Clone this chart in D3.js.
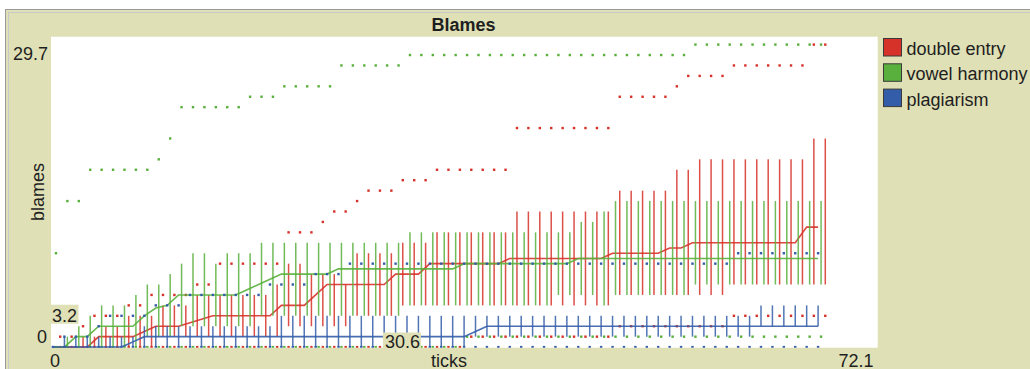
<!DOCTYPE html>
<html>
<head>
<meta charset="utf-8">
<script src="https://cdn.jsdelivr.net/npm/d3@7"></script>
<style>
  html, body { margin: 0; padding: 0; background: #ffffff; }
  svg { display: block; font-family: "Liberation Sans", Arial, sans-serif; }
</style>
</head>
<body>
<svg id="chart" width="1030" height="369"></svg>
<script>
// ---- data: per tick, each series has max, min, median and quartile span ----
const ticks = d3.range(0, 68);
const seriesNames = ["double entry", "vowel harmony", "plagiarism"];
const xLabels = ["0", "72.1"];
const yLabels = ["0", "29.7"];
const xRange = [0, 72.1];
const yRange = [0, 29.7];

const redMax = [1,1,2,3,3,3,4,4,5,5,5,5,6,6,8,8,8,8,8,8,11,11,11,12,13,13,14,15,15,15,16,16,16,17,17,17,17,17,17,17,21,21,21,21,21,21,21,21,21,24,24,24,24,24,25,26,26,26,26,27,27,27,27,27,27,27,29,29];
const redMin = [0,0,0,0,0,0,0,0,0,0,0,0,0,0,0,0,0,0,0,0,0,0,0,0,0,0,0,0,0,0,0,0,0,0,0,0,1,1,1,1,1,1,1,1,1,1,1,1,1,2,2,2,2,2,2,2,2,2,2,3,3,3,3,3,3,3,3,3];
const redMed = [0,0,0,0,1,1,1,1,1.5,2,2,2,2.33,2.67,3,3,3,3,3,3,4,4,4,5,6,6,6,6,6,6,7,7,7,8,8,8,8,8,8,8,8.5,8.5,8.5,8.5,8.5,8.5,8.5,8.5,8.5,9,9,9,9,9,9.5,9.5,10,10,10,10,10,10,10,10,10,10,11.5,11.5];
const redQ1  = [0,0,0,0,0,0,0,0,0,1,1,1,1,1,1,1,1,1,1,1,2,2,2,2,2,2,3,3,3,3,4,4,4,4,4,4,4,4,4,4,4,4,4,4,4,4,4,4,4,5,5,5,5,5,5,5,5,5,5,6,6,6,6,6,6,6,6,6];
const redQ3  = [0,0,1,1,2,2,3,3,3,4,4,4,5,5,5,5,5,5,5,6,8,8,7,7,7,6,9,9,9,9,10,10,10,11,11,11,11,11,11,11,13,13,13,13,13,13,13,13,13,15,15,15,15,15,17,17,18,18,18,18,18,18,18,18,18,18,20,20];

const greenMax = [9,14,14,17,17,17,17,17,17,18,20,23,23,23,23,23,23,24,24,24,25,25,25,25,25,27,27,27,27,27,27,28,28,28,28,28,28,28,28,28,28,28,28,28,28,28,28,28,28,28,28,28,28,28,28,28,29,29,29,29,29,29,29,29,29,29,29,29];
const greenMin = [0,0,0,0,0,0,0,0,0,0,0,0,0,0,0,0,0,0,0,0,0,0,0,0,0,0,0,0,0,0,0,0,0,0,0,0,1,1,1,1,1,1,1,1,1,1,1,1,1,1,1,1,1,1,1,1,1,1,1,1,1,1,1,1,1,1,1,1];
const greenMed = [0,0,1,1,2,2,2,2,3,3.75,4,5,5,5,5,5,5,5.5,6,6.5,7,7,7,7,7,7.5,7.5,7.5,7.5,7.5,7.5,7.5,7.5,7.5,7.5,7.5,8,8,8,8,8,8,8,8,8,8,8.5,8.5,8.5,8.5,8.5,8.5,8.5,8.5,8.5,8.5,8.5,8.5,8.5,8.5,8.5,8.5,8.5,8.5,8.5,8.5,8.5,8.5];
const greenQ1  = [0,0,0,0,0,0,0,0,1,1,1,2,2,2,2,2,2,2,3,3,3,3,3,3,3,3,3,3,3,3,3,4,4,4,4,4,4,4,4,4,4,4,4,4,5,5,5,5,4,5,5,5,5,5,5,5,6,6,6,6,6,6,6,6,6,6,6,6];
const greenQ3  = [0,1,2,3,4,4,4,5,6,6,7,8,9,9,8,9,9,9,10,10,10,10,10,10,10,10,10,10,10,10,10,11,11,11,11,11,11,11,11,11,11,11,11,11,11,11,12,12,13,14,14,14,14,14,14,14,14,14,14,14,14,14,14,14,14,14,14,14];

const blueMax = [0,1,1,1,2,3,3,3,3,4,4,4,5,5,5,5,5,5,5,6,6,6,6,7,7,7,8,8,8,8,8,8,8,8,8,8,8,8,8,8,8,8,8,8,8,8,8,8,8,8,8,8,8,8,8,8,8,8,8,8,9,9,9,9,9,9,9,9];
const blueMin = [0,0,0,0,0,0,0,0,0,0,0,0,0,0,0,0,0,0,0,0,0,0,0,0,0,0,0,0,0,0,0,0,0,0,0,0,0,0,0,0,0,0,0,0,0,0,0,0,0,0,0,0,0,0,0,0,0,0,0,0,0,0,0,0,0,0,0,0];
const blueMed = [0,0,0,0,0,0,0,0.5,1,1,1,1,1,1,1,1,1,1,1,1,1,1,1,1,1,1,1,1,1,1,1,1,1,1,1,1,1,1.5,2,2,2,2,2,2,2,2,2,2,2,2,2,2,2,2,2,2,2,2,2,2,2,2,2,2,2,2,2,2];
const blueQ1  = [0,0,0,0,0,0,0,0,0,0,0,0,0,0,0,0,0,0,0,0,0,0,0,0,0,0,0,0,0,0,0,0,0,0,0,0,0,1,1,1,1,1,1,1,1,1,1,1,1,1,1,1,1,1,1,1,1,1,1,1,1,1,2,2,2,2,2,2];
const blueQ3  = [0,1,1,1,1,1,1,1,2,2,2,2,2,2,2,2,2,2,2,2,3,3,3,3,3,3,3,3,3,3,3,3,3,3,3,3,3,3,3,3,3,3,3,3,3,3,3,3,3,3,3,3,3,3,3,3,3,3,3,3,3,3,4,4,4,4,4,4];

// each series' marks sit a fraction of a tick to the side so they don't overlap
const series = [
  { name: seriesNames[0], color: "#d73229", shift: 0.63, max: redMax,   min: redMin,   med: redMed,   q1: redQ1,   q3: redQ3 },
  { name: seriesNames[1], color: "#59b03c", shift: 0.26, max: greenMax, min: greenMin, med: greenMed, q1: greenQ1, q3: greenQ3 },
  { name: seriesNames[2], color: "#345da9", shift: 0.0,  max: blueMax,  min: blueMin,  med: blueMed,  q1: blueQ1,  q3: blueQ3 }
];

// ---- layout ----
const W = 1030, H = 369;
const plot = { left: 51, right: 877.7, top: 36.7, bottom: 347.7 };
const bg = "#dfe0b6";
const ink = "#1e1e1e";

const svg = d3.select("#chart");

// widget frame
svg.append("rect").attr("x", 0).attr("y", 0).attr("width", W).attr("height", H).attr("fill", "#ffffff");
svg.append("rect").attr("x", 5.5).attr("y", 9.5).attr("width", W).attr("height", H)
  .attr("fill", bg).attr("stroke", "#9a9a9a").attr("stroke-width", 1);
svg.append("rect").attr("x", 8.5).attr("y", 12.5).attr("width", W).attr("height", H)
  .attr("fill", bg).attr("stroke", "#c8c8c8").attr("stroke-width", 1);

// plot canvas
svg.append("rect")
  .attr("x", plot.left).attr("y", plot.top)
  .attr("width", plot.right - plot.left).attr("height", plot.bottom - plot.top)
  .attr("fill", "#ffffff");

svg.append("clipPath").attr("id", "plotClip")
  .append("rect")
  .attr("x", plot.left).attr("y", plot.top)
  .attr("width", plot.right - plot.left).attr("height", plot.bottom - plot.top);

// scales: tick index -> px, blames -> px
const x = d3.scaleLinear().domain([-0.175, 72.22]).range([plot.left, plot.right]);
const y = d3.scaleLinear().domain(yRange).range([347.1, 37.3]);

const g = svg.append("g").attr("clip-path", "url(#plotClip)");

const line = d3.line().x(d => x(d.t)).y(d => y(d.v));

series.forEach(s => {
  const sg = g.append("g");
  // quartile spans
  sg.selectAll("line.bar")
    .data(ticks.filter(k => s.q3[k] > s.q1[k]))
    .join("line")
    .attr("class", "bar")
    .attr("x1", k => x(k + s.shift)).attr("x2", k => x(k + s.shift))
    .attr("y1", k => y(s.q1[k])).attr("y2", k => y(s.q3[k]))
    .attr("stroke", s.color).attr("stroke-width", 1.5).attr("opacity", 0.85);
  // median line
  sg.append("path")
    .datum(ticks.map(k => ({ t: k, v: s.med[k] })))
    .attr("d", line)
    .attr("fill", "none").attr("stroke", s.color).attr("stroke-width", 1.6).attr("opacity", 0.9);
  // max and min points
  [s.max, s.min].forEach(arr => {
    sg.selectAll(null)
      .data(ticks)
      .join("rect")
      .attr("x", k => x(k + s.shift) - 1.2)
      .attr("y", k => y(arr[k]) - 1.2)
      .attr("width", 2.4).attr("height", 2.4)
      .attr("fill", s.color);
  });
});

// title
svg.append("text").attr("x", 463.5).attr("y", 31)
  .attr("text-anchor", "middle").attr("font-size", 18).attr("font-weight", "bold")
  .attr("fill", ink).text("Blames");

// axis extremes
svg.append("text").attr("x", 48).attr("y", 60).attr("text-anchor", "end")
  .attr("font-size", 18).attr("fill", ink).text(yLabels[1]);
svg.append("text").attr("x", 47).attr("y", 343).attr("text-anchor", "end")
  .attr("font-size", 18).attr("fill", ink).text(yLabels[0]);
svg.append("text").attr("x", 50).attr("y", 366.5).attr("text-anchor", "start")
  .attr("font-size", 18).attr("fill", ink).text(xLabels[0]);
svg.append("text").attr("x", 873.5).attr("y", 366.5).attr("text-anchor", "end")
  .attr("font-size", 18).attr("fill", ink).text(xLabels[1]);

// axis names
svg.append("text").attr("x", 449).attr("y", 366.5).attr("text-anchor", "middle")
  .attr("font-size", 18).attr("fill", ink).text("ticks");
svg.append("text").attr("transform", "translate(44,192) rotate(-90)")
  .attr("text-anchor", "middle").attr("font-size", 18).attr("fill", ink).text("blames");

// pointer readouts inside the canvas
const readY = 3.2, readX = 30.6;
svg.append("rect").attr("x", plot.left).attr("y", y(readY) - 9).attr("width", 27.5).attr("height", 19).attr("fill", bg);
svg.append("text").attr("x", plot.left + 1).attr("y", y(readY) + 8)
  .attr("font-size", 18).attr("fill", ink).text(readY.toFixed(1));
svg.append("rect").attr("x", x(readX) - 19.5).attr("y", 332.5).attr("width", 38).attr("height", 16).attr("fill", bg);
svg.append("text").attr("x", x(readX)).attr("y", 347.5).attr("text-anchor", "middle")
  .attr("font-size", 18).attr("fill", ink).text(readX.toFixed(1));

// legend
const lg = svg.append("g").attr("transform", "translate(883,38)");
series.forEach((s, i) => {
  const row = lg.append("g").attr("transform", `translate(0,${i * 25.3})`);
  row.append("rect").attr("x", 0.5).attr("y", 0.5).attr("width", 18).attr("height", 17.5)
    .attr("fill", s.color).attr("stroke", "#3a3a3a").attr("stroke-width", 1);
  row.append("text").attr("x", 23.5).attr("y", 17).attr("font-size", 18).attr("fill", ink).text(s.name);
});
</script>
</body>
</html>
